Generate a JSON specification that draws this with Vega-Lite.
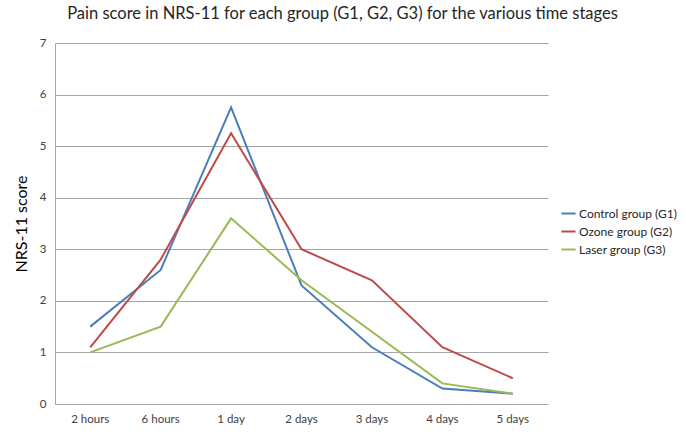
{
  "$schema": "https://vega.github.io/schema/vega-lite/v6.json",
  "width": 493,
  "height": 361,
  "autosize": {"type": "none"},
  "padding": {"left": 55, "top": 43, "right": 137, "bottom": 33},
  "background": "white",
  "title": {
    "text": "Pain score in NRS-11 for each group (G1, G2, G3) for the various time stages",
    "font": "Lato",
    "fontSize": 16.5,
    "fontWeight": "normal",
    "color": "#262626",
    "anchor": "middle",
    "dx": 41,
    "offset": 15
  },
  "data": {
    "values": [
      {"stage": "2 hours", "group": "Control group (G1)", "score": 1.5},
      {"stage": "6 hours", "group": "Control group (G1)", "score": 2.6},
      {"stage": "1 day", "group": "Control group (G1)", "score": 5.75},
      {"stage": "2 days", "group": "Control group (G1)", "score": 2.3},
      {"stage": "3 days", "group": "Control group (G1)", "score": 1.1},
      {"stage": "4 days", "group": "Control group (G1)", "score": 0.3},
      {"stage": "5 days", "group": "Control group (G1)", "score": 0.2},
      {"stage": "2 hours", "group": "Ozone group (G2)", "score": 1.1},
      {"stage": "6 hours", "group": "Ozone group (G2)", "score": 2.8},
      {"stage": "1 day", "group": "Ozone group (G2)", "score": 5.25},
      {"stage": "2 days", "group": "Ozone group (G2)", "score": 3.0},
      {"stage": "3 days", "group": "Ozone group (G2)", "score": 2.4},
      {"stage": "4 days", "group": "Ozone group (G2)", "score": 1.1},
      {"stage": "5 days", "group": "Ozone group (G2)", "score": 0.5},
      {"stage": "2 hours", "group": "Laser group (G3)", "score": 1.0},
      {"stage": "6 hours", "group": "Laser group (G3)", "score": 1.5},
      {"stage": "1 day", "group": "Laser group (G3)", "score": 3.6},
      {"stage": "2 days", "group": "Laser group (G3)", "score": 2.4},
      {"stage": "3 days", "group": "Laser group (G3)", "score": 1.4},
      {"stage": "4 days", "group": "Laser group (G3)", "score": 0.4},
      {"stage": "5 days", "group": "Laser group (G3)", "score": 0.2}
    ]
  },
  "mark": {"type": "line", "strokeWidth": 2},
  "encoding": {
    "x": {
      "field": "stage",
      "type": "ordinal",
      "sort": null,
      "scale": {"type": "band", "paddingInner": 0, "paddingOuter": 0},
      "axis": {
        "title": null,
        "labelAngle": 0,
        "labelPadding": 9,
        "ticks": false,
        "domainColor": "#a6a6a6",
        "grid": false
      }
    },
    "y": {
      "field": "score",
      "type": "quantitative",
      "scale": {"domain": [0, 7], "nice": false},
      "axis": {
        "title": "NRS-11 score",
        "titleFont": "Lato",
        "titleFontSize": 16,
        "titleFontWeight": "normal",
        "titleColor": "#000000",
        "titlePadding": 10,
        "values": [0, 1, 2, 3, 4, 5, 6, 7],
        "labelOverlap": false,
        "labelPadding": 9,
        "ticks": false,
        "domainColor": "#a6a6a6",
        "grid": true,
        "gridColor": "#a6a6a6"
      }
    },
    "color": {
      "field": "group",
      "type": "nominal",
      "sort": ["Control group (G1)", "Ozone group (G2)", "Laser group (G3)"],
      "scale": {
        "domain": ["Control group (G1)", "Ozone group (G2)", "Laser group (G3)"],
        "range": ["#4a7ebb", "#be4b48", "#98b954"]
      },
      "legend": {
        "title": null,
        "orient": "none",
        "legendX": 505,
        "legendY": 162,
        "symbolType": "stroke",
        "symbolSize": 200,
        "symbolStrokeWidth": 2,
        "labelFont": "Lato",
        "labelFontSize": 12,
        "labelColor": "#262626",
        "rowPadding": 3,
        "symbolOffset": 0,
        "labelOffset": 2
      }
    }
  },
  "config": {
    "view": {"stroke": null},
    "axis": {
      "labelFont": "Lato",
      "labelFontSize": 11.5,
      "labelColor": "#404040"
    }
  }
}
